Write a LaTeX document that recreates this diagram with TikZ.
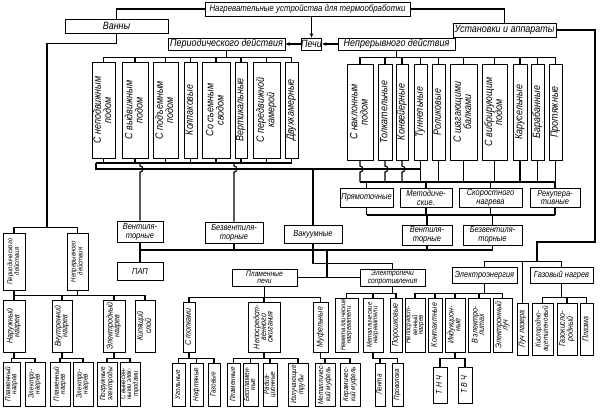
\documentclass[tikz,border=0pt]{standalone}
\usepackage{fontspec}
\setmainfont{Liberation Sans}[FakeStretch=0.85]
\usetikzlibrary{arrows.meta}
\newdimen\pxu \pxu=0.04cm
\renewcommand\arraystretch{0.8}
\newcommand\vt[1]{\rotatebox{90}{\begin{tabular}{@{}c@{}}#1\end{tabular}}}
% box from its corners: [style]{name}{x1}{y1}{x2}{y2}{text}
\newcommand\bx[7][hb]{\node[#1,minimum width={(#5-#3)*\pxu},minimum height={(#6-#4)*\pxu}] (#2) at ({(#3+#5)/2},{(#4+#6)/2}) {#7};}
\tikzset{
  hb/.style={draw,line width=0.9pt,inner sep=0pt,align=center,font=\fontsize{12}{12.5}\selectfont\itshape},
  ht/.style={hb,font=\fontsize{10.5}{11}\selectfont\itshape},
  hm/.style={hb,font=\fontsize{10}{10}\selectfont\itshape},
  hs/.style={hb,font=\fontsize{9}{8.5}\selectfont\itshape},
  vb/.style={hb,font=\fontsize{12}{12}\selectfont\itshape},
  vm/.style={hb,font=\fontsize{9.5}{9.5}\selectfont\itshape},
  vs/.style={hb,font=\fontsize{8.5}{8.5}\selectfont\itshape},
  vx/.style={hb,font=\fontsize{8}{8}\selectfont\itshape},
  wire/.style={line width=1.3pt},
  >={Stealth[length=5pt,width=4pt]},
}

\begin{document}
\begin{tikzpicture}[x=0.04cm,y=-0.04cm,wire]
  \useasboundingbox (0,0) rectangle (600,409);
  % top level
  \bx[ht]{top}{205}{2}{410}{16}{Нагревательные устройства для термообработки}
  \bx{van}{65}{19}{168}{33}{Ванны}
  \bx{ust}{453}{23}{556}{37}{Установки и аппараты}
  \bx{pech}{302}{38}{321}{50}{Печи}
  \bx{per}{168}{38}{285}{50}{Периодического действия}
  \bx{nep}{338}{38}{455}{50}{Непрерывного действия}
  % periodic furnaces
  \bx[vb]{pp1}{92}{62}{115}{158}{\vt{С неподвижным\\подом}}
  \bx[vb]{pp2}{122}{62}{148}{158}{\vt{С выдвижным\\подом}}
  \bx[vb]{pp3}{153}{62}{178}{158}{\vt{С подъемным\\подом}}
  \bx[vb]{pp4}{184}{62}{197}{158}{\vt{Колпаковые}}
  \bx[vb]{pp5}{202}{62}{230}{158}{\vt{Со съемным\\сводом}}
  \bx[vb]{pp6}{235}{62}{247}{158}{\vt{Вертикальные}}
  \bx[vb]{pp7}{253}{62}{280}{158}{\vt{С передвижной\\камерой}}
  \bx[vb]{pp8}{285}{62}{298}{158}{\vt{Двухкамерные}}
  % continuous furnaces
  \bx[vb]{pn1}{347}{64}{373}{160}{\vt{С наклонным\\подом}}
  \bx[vb]{pn2}{378}{64}{392}{160}{\vt{Толкательные}}
  \bx[vb]{pn3}{396}{64}{408}{160}{\vt{Конвейерные}}
  \bx[vb]{pn4}{414}{64}{427}{160}{\vt{Туннельные}}
  \bx[vb]{pn5}{432}{64}{445}{160}{\vt{Роликовые}}
  \bx[vb]{pn6}{450}{64}{477}{160}{\vt{С шагающими\\балками}}
  \bx[vb]{pn7}{482}{64}{507}{160}{\vt{С вибрирующим\\подом}}
  \bx[vb]{pn8}{513}{64}{527}{160}{\vt{Карусельные}}
  \bx[vb]{pn9}{531}{64}{544}{160}{\vt{Барабанные}}
  \bx[vb]{pn10}{549}{64}{562}{160}{\vt{Протяжные}}
  % middle
  \bx[hm]{pr}{340}{188}{393}{207}{Прямоточные}
  \bx[hm]{met}{400}{188}{452}{207}{Методиче-\\ские.}
  \bx[hm]{sko}{459}{188}{522}{207}{Скоростного\\нагрева}
  \bx[hm]{rek}{530}{188}{580}{207}{Рекупера-\\тивные}
  \bx[hm]{ven1}{117}{221}{163}{242}{Вентиля-\\торные}
  \bx[hm]{bez1}{205}{222}{263}{243}{Безвентиля-\\торные}
  \bx[hm]{vak}{284}{225}{342}{243}{Вакуумные}
  \bx[hm]{ven2}{402}{225}{452}{245}{Вентиля-\\торные}
  \bx[hm]{bez2}{463}{225}{522}{245}{Безвентиля-\\торные}
  \bx[hm]{pap}{117}{262}{163}{280}{ПАП}
  \bx[hs]{pl}{232}{269}{297}{286}{Пламенные\\печи}
  \bx[hs]{eps}{360}{269}{425}{286}{Электропечи\\сопротивления}
  \bx[hm]{ee}{452}{267}{517}{283}{Электроэнергия}
  \bx[hm]{gaz}{530}{267}{593}{283}{Газовый нагрев}
  % baths
  \bx[vx]{vper}{3}{233}{25}{290}{\vt{Периодического\\действия}}
  \bx[vx]{vnep}{67}{233}{88}{290}{\vt{Непрерывного\\действия}}
  \bx[vm]{vb1}{3}{300}{25}{352}{\vt{Наружный\\нагрев}}
  \bx[vm]{vb2}{52}{300}{72}{352}{\vt{Внутренний\\нагрев}}
  \bx[vm]{vb3}{103}{300}{125}{352}{\vt{Электродный\\нагрев}}
  \bx[vm]{vb4}{135}{300}{155}{352}{\vt{Кипящий\\слой}}
  \bx[vs]{vc1}{3}{362}{20}{406}{\vt{Пламенный\\нагрев}}
  \bx[vs]{vc2}{25}{362}{45}{406}{\vt{Электро-\\нагрев}}
  \bx[vs]{vc3}{50}{362}{70}{406}{\vt{Пламенный\\нагрев}}
  \bx[vs]{vc4}{73}{362}{93}{406}{\vt{Электро-\\нагрев}}
  \bx[vs]{vc5}{97}{362}{117}{406}{\vt{Погружные\\электроды}}
  \bx[vx]{vc6}{120}{362}{140}{406}{\vt{С вынесен-\\ными элек-\\тродами}}
  % flame furnaces
  \bx[vm]{plt}{183}{302}{195}{352}{\vt{С топками}}
  \bx[vm]{pln}{248}{302}{280}{352}{\vt{Непосредст-\\венного\\сжигания}}
  \bx[vm]{plm}{313}{302}{328}{352}{\vt{Муфельные}}
  \bx[vs]{plt1}{172}{363}{185}{406}{\vt{Угольные}}
  \bx[vs]{plt2}{190}{363}{203}{406}{\vt{Нефтяные}}
  \bx[vs]{plt3}{208}{363}{220}{406}{\vt{Газовые}}
  \bx[vs]{pln1}{227}{363}{240}{406}{\vt{Пламенные}}
  \bx[vs]{pln2}{243}{363}{258}{406}{\vt{Беспламен-\\ные}}
  \bx[vs]{pln3}{263}{363}{277}{406}{\vt{Радиа-\\ционные}}
  \bx[vs]{pln4}{288}{363}{308}{406}{\vt{Излучающие\\трубы}}
  \bx[vs]{plm1}{315}{363}{335}{406}{\vt{Металличес-\\кий муфель}}
  \bx[vs]{plm2}{340}{363}{360}{406}{\vt{Керамичес-\\кий муфель}}
  % resistance furnaces
  \bx[vx]{ep1}{335}{298}{358}{352}{\vt{Неметаллические\\нагреватели}}
  \bx[vx]{ep2}{363}{298}{383}{352}{\vt{Металлические\\нагреватели}}
  \bx[vm]{ep3}{390}{298}{402}{352}{\vt{Порошковые}}
  \bx[vs]{ep21}{375}{363}{385}{406}{\vt{Лента}}
  \bx[vs]{ep22}{392}{363}{403}{406}{\vt{Проволока}}
  % electric energy, gas
  \bx[vx]{ee1}{405}{298}{425}{352}{\vt{Непосредст-\\венный\\нагрев}}
  \bx[vm]{ee2}{428}{298}{442}{352}{\vt{Контактные}}
  \bx[vm]{ee3}{445}{298}{465}{352}{\vt{Индукцион-\\ные}}
  \bx[vm]{ee4}{468}{298}{490}{352}{\vt{В электро-\\литах}}
  \bx[vm]{ee5}{493}{298}{512}{352}{\vt{Электронный\\луч}}
  \bx[vm]{tnch}{433}{367}{447}{403}{\vt{Т Н Ч}}
  \bx[vm]{tvch}{458}{367}{472}{403}{\vt{Т В Ч}}
  \bx[vm]{laz}{517}{303}{528}{355}{\vt{Луч лазера}}
  \bx[vs]{gz1}{532}{303}{553}{355}{\vt{Кислородно-\\ацетиленовый}}
  \bx[vm]{gz2}{557}{303}{577}{355}{\vt{Газокисло-\\родный}}
  \bx[vm]{gz3}{580}{303}{593}{355}{\vt{Плазма}}

  % connectors, top
  \draw (top.west) -| (van.north);
  \draw (top.east) -| (ust.north);
  \draw[->] (top.south -| pech.north) -- (pech.north);
  \draw[->] (pech.west) -- (per.east);
  \draw[->] (nep.west) -- (pech.east);
  \foreach \i in {1,...,8} \draw (per.south) -- ++(0,7) -| (pp\i.north);
  \foreach \i in {1,...,10} \draw (nep.south) -- ++(0,7) -| (pn\i.north);
  % buses under the furnaces
  \coordinate (busA) at (96,163);
  \coordinate (busB) at (96,169);
  \coordinate (busBj) at (0,166);
  \coordinate (busC) at (360,182);
  \coordinate (busD) at (0,215);
  \coordinate (busE) at (0,250);
  \foreach \i in {1,...,8} \draw (pp\i.south) -- (pp\i.south |- busA);
  \draw (busA) -- (pp8.south |- busA);
  \draw (busA) -- (busB) -- (pn4.south |- busB);
  \draw (ven1.north |- busA) -- ++(0,3) arc[start angle=90,end angle=-90,radius=3\pxu] -- (ven1.north);
  \draw (bez1.north |- busA) -- ++(0,3) arc[start angle=90,end angle=-90,radius=3\pxu] -- (bez1.north);
  \draw (vak.north |- busB) -- (vak.north);
  \foreach \i in {1,2,3}
    \draw (pn\i.south) -- (pn\i.south |- busBj) arc[start angle=90,end angle=-90,radius=3\pxu] -- (pn\i.south |- busC);
  \foreach \i in {4,...,10} \draw (pn\i.south) -- (pn\i.south |- busC);
  \draw (pn1.south |- busC) -- (pn10.south |- busC);
  \foreach \c in {pr,met,sko,rek} {
    \draw (\c.north) -- (\c.north |- busC);
    \draw (\c.south) -- (\c.south |- busD);
  }
  \draw (pr.south |- busD) -- (rek.south |- busD);
  \draw (ven2.north) -- (ven2.north |- busD);
  \draw (bez2.north) -- (bez2.north |- busD);
  \draw (ven1.south) -- (pap.north);
  \draw (ven1.south |- busE) -- (bez2.south |- busE);
  \foreach \c in {bez1,ven2,bez2} \draw (\c.south) -- (\c.south |- busE);
  \coordinate (j1) at (327,250);
  \draw (j1) -- (j1 |- pl.east);
  \draw (pl.east) -- (pl.east -| eps.west);
  \draw (vak.south) -- ++(0,20) -| (eps.north);
  % installations
  \coordinate (u1) at (595,242);
  \coordinate (u2) at (537,262);
  \draw (ust.east) -| (u1) -| (u2);
  \draw (ee.north) -- ++(0,-5) -| (gaz.north);
  \draw (laz.north) -- (laz.north |- u2);
  \foreach \i in {1,...,5} \draw (ee.south) -- ++(0,10) -| (ee\i.north);
  \foreach \c in {tnch,tvch} \draw (ee3.south) -- ++(0,6) -| (\c.north);
  \foreach \i in {1,2,3} \draw (gaz.south) -- ++(0,14) -| (gz\i.north);
  % resistance and flame furnaces
  \foreach \c in {ep1,ep2,ep3} \draw (eps.south) -- ++(0,7) -| (\c.north);
  \foreach \c in {ep21,ep22} \draw (ep2.south) -- ++(0,6) -| (\c.north);
  \foreach \c in {plt,pln,plm} \draw (pl.south) -- ++(0,11) -| (\c.north);
  \foreach \c in {plt1,plt2,plt3} \draw (plt.south) -- ++(0,6) -| (\c.north);
  \foreach \c in {pln1,pln2,pln3,pln4} \draw (pln.south) -- ++(0,6) -| (\c.north);
  \foreach \c in {plm1,plm2} \draw (plm.south) -- ++(0,6) -| (\c.north);
  % baths
  \coordinate (v1) at (47,228);
  \draw (van.south) -- ++(0,10) -| (v1);
  \draw (vper.north) -- ++(0,-5) -| (vnep.north);
  \foreach \i in {1,...,4} \draw (vper.south) -- ++(0,5) -| (vb\i.north);
  \draw (vnep.south) -- ++(0,5);
  \foreach \c in {vc1,vc2} \draw (vb1.south) -- ++(0,6) -| (\c.north);
  \foreach \c in {vc3,vc4} \draw (vb2.south) -- ++(0,6) -| (\c.north);
  \foreach \c in {vc5,vc6} \draw (vb3.south) -- ++(0,6) -| (\c.north);
\end{tikzpicture}
\end{document}
